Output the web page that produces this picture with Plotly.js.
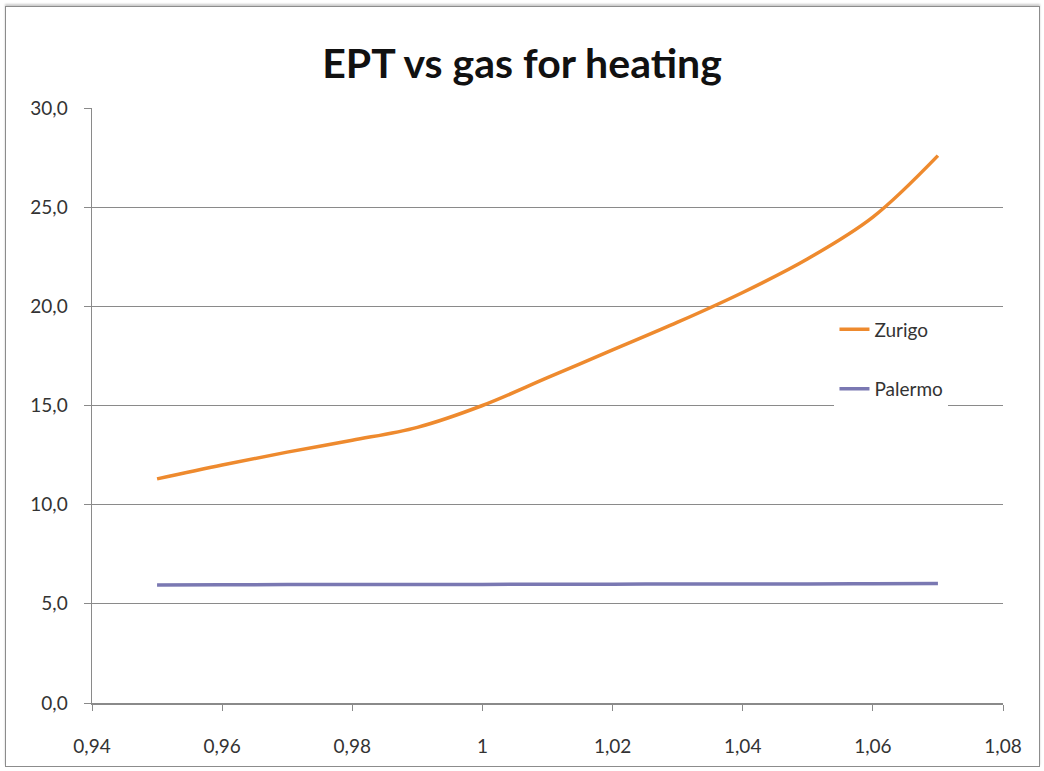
<!DOCTYPE html>
<html><head><meta charset="utf-8">
<script src="https://cdn.plot.ly/plotly-3.0.1.min.js"></script>
<style>
body{margin:0;background:#fff;}
#chart{width:1044px;height:771px;}
#frame{position:absolute;left:5px;top:6px;width:1033px;height:759px;border:1px solid #8c8c8c;pointer-events:none;box-shadow:0 -2px 2px #ccc;}
</style></head>
<body>
<div id="chart"></div>
<div id="frame"></div>
<script>
const xValues = [0.95, 0.96, 0.97, 0.98, 0.99, 1.00, 1.01, 1.02, 1.03, 1.04, 1.05, 1.06, 1.07];
const zurigo = [11.3, 12.0, 12.65, 13.25, 13.9, 15.0, 16.4, 17.8, 19.2, 20.7, 22.4, 24.5, 27.6];
const palermo = [5.95, 5.96, 5.97, 5.97, 5.98, 5.98, 5.99, 5.99, 6.0, 6.0, 6.0, 6.01, 6.02];
const seriesNames = ["Zurigo", "Palermo"];
const titleText = "EPT vs gas for heating";

const font = "Lato, 'Open Sans', sans-serif";
const traces = [
  {x: xValues, y: zurigo, name: seriesNames[0], type: "scatter", mode: "lines",
   line: {color: "#EE8A2E", width: 3.5, shape: "spline", smoothing: 1.0}, legendgroup: "a"},
  {x: xValues, y: palermo, name: seriesNames[1], type: "scatter", mode: "lines",
   line: {color: "#7A78B2", width: 3.5, shape: "spline"}, legendgroup: "b"}
];
const layout = {
  width: 1044, height: 771,
  margin: {l: 92, r: 41, t: 108, b: 68},
  paper_bgcolor: "#fff", plot_bgcolor: "#fff",
  separators: ",.",
  title: {text: "<b>" + titleText + "</b>", font: {family: font, size: 41, color: "#111"},
          x: 0.5, xanchor: "center", y: 0.918, yanchor: "middle"},
  xaxis: {range: [0.94, 1.08], dtick: 0.02, tick0: 0.94, showgrid: false, zeroline: false,
          showline: true, linecolor: "#8a8a8a", linewidth: 1.5,
          ticks: "outside", ticklen: 6, tickcolor: "#8a8a8a", ticklabelstandoff: 20,
          tickfont: {family: font, size: 19, color: "#333"}},
  yaxis: {range: [0, 30], dtick: 5, tickformat: ".1f", showgrid: true, gridcolor: "#8a8a8a", gridwidth: 1.2,
          zeroline: false, showline: true, linecolor: "#8a8a8a", linewidth: 1.5,
          ticks: "outside", ticklen: 7, tickcolor: "#8a8a8a", ticklabelstandoff: 12,
          tickfont: {family: font, size: 19, color: "#333"}},
  showlegend: true,
  legend: {x: 0.815, xanchor: "left", y: 0.66, yanchor: "top", bgcolor: "#fff",
           font: {family: font, size: 19, color: "#333"}, tracegroupgap: 32,
           traceorder: "grouped", entrywidth: 150, entrywidthmode: "pixels"}
};
Plotly.newPlot("chart", traces, layout, {displayModeBar: false, staticPlot: true});
</script>
</body></html>
